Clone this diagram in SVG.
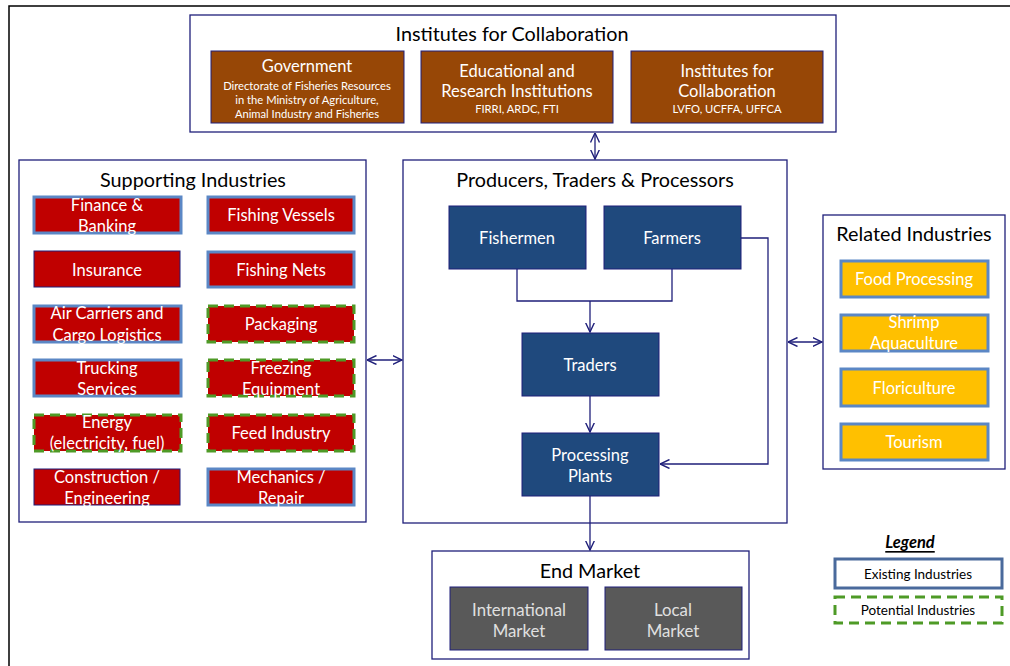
<svg xmlns="http://www.w3.org/2000/svg" width="1010" height="666" viewBox="0 0 1010 666">
<defs>
<marker id="arr" viewBox="0 0 10 10" refX="9.5" refY="5" markerWidth="10" markerHeight="10" markerUnits="userSpaceOnUse" orient="auto-start-reverse">
<path d="M0,0.5 L9.5,5 L0,9.5" fill="none" stroke="#1f1f7a" stroke-width="1.4"/>
</marker>
<style>
text{font-family:Lato,"Open Sans","Liberation Sans",sans-serif;text-anchor:middle;dominant-baseline:central}
.frame{fill:none;stroke:#000;stroke-width:1.5}
.cont{fill:#fff;stroke:#1f1f7a;stroke-width:1.3}
.title{font-size:19.8px;fill:#000}
.brown{fill:#974706;stroke:#1f1f7a;stroke-width:1}
.red{fill:#c00000}
.ex{stroke:#5b87c5;stroke-width:3}
.thin{stroke:#1f1f7a;stroke-width:1}
.pot{stroke:#4e9a26;stroke-width:3;stroke-dasharray:10 6}
.blue{fill:#1f497d;stroke:#1f1f7a;stroke-width:1}
.gold{fill:#ffc000;stroke:#5b87c5;stroke-width:3}
.gray{fill:#595959;stroke:#1f1f7a;stroke-width:1}
.wt{fill:#fff;font-size:16.5px}
.wt16{fill:#fff;font-size:16.5px}
.sm{fill:#fff;font-size:11.2px}
.lg{fill:#e0e0e0;font-size:16.8px}
.conn{fill:none;stroke:#1f1f7a;stroke-width:1.3}
</style>
</defs>
<rect width="1010" height="666" fill="#fff"/>
<path class="frame" d="M9,666 L9,6 L1010,6"/>

<g id="institutes">
<rect class="cont" x="190" y="15" width="646" height="117"/>
<text class="title" x="512" y="33">Institutes for Collaboration</text>
</g>
<g id="government">
<rect class="brown" x="211" y="51" width="193" height="72"/>
<text class="wt16" x="307" y="66">Government</text>
<text class="sm" x="307" y="85">Directorate of Fisheries Resources</text>
<text class="sm" x="307" y="99">in the Ministry of Agriculture,</text>
<text class="sm" x="307" y="113">Animal Industry and Fisheries</text>
</g>
<g id="educational">
<rect class="brown" x="421" y="51" width="192" height="72"/>
<text class="wt16" x="517" y="71">Educational and</text>
<text class="wt16" x="517" y="91">Research Institutions</text>
<text class="sm" x="517" y="108">FIRRI, ARDC, FTI</text>
</g>
<g id="institutes-collab">
<rect class="brown" x="631" y="51" width="192" height="72"/>
<text class="wt16" x="727" y="71">Institutes for</text>
<text class="wt16" x="727" y="91">Collaboration</text>
<text class="sm" x="727" y="108">LVFO, UCFFA, UFFCA</text>
</g>

<g id="supporting">
<rect class="cont" x="19" y="160" width="347" height="362"/>
<text class="title" x="193" y="179">Supporting Industries</text>
</g>
<g id="finance"><rect class="red ex" x="34" y="197" width="147" height="36"/><text class="wt" x="107" y="205">Finance &amp;</text><text class="wt" x="107" y="226">Banking</text></g>
<g id="vessels"><rect class="red ex" x="208" y="197" width="146" height="36"/><text class="wt" x="281" y="215">Fishing Vessels</text></g>
<g id="insurance"><rect class="red thin" x="34" y="251" width="146" height="36"/><text class="wt" x="107" y="270">Insurance</text></g>
<g id="nets"><rect class="red ex" x="208" y="252" width="146" height="35"/><text class="wt" x="281" y="270">Fishing Nets</text></g>
<g id="air"><rect class="red ex" x="34" y="306" width="147" height="36"/><text class="wt" x="107" y="313">Air Carriers and</text><text class="wt" x="107" y="335">Cargo Logistics</text></g>
<g id="packaging"><rect class="red pot" x="208" y="306" width="146" height="36"/><text class="wt" x="281" y="324">Packaging</text></g>
<g id="trucking"><rect class="red ex" x="34" y="360" width="147" height="36"/><text class="wt" x="107" y="368">Trucking</text><text class="wt" x="107" y="389">Services</text></g>
<g id="freezing"><rect class="red pot" x="208" y="360" width="146" height="36"/><text class="wt" x="281" y="368">Freezing</text><text class="wt" x="281" y="389">Equipment</text></g>
<g id="energy"><rect class="red pot" x="34" y="415" width="147" height="36"/><text class="wt" x="107" y="422">Energy</text><text class="wt" x="107" y="443">(electricity, fuel)</text></g>
<g id="feed"><rect class="red pot" x="208" y="415" width="146" height="36"/><text class="wt" x="281" y="433">Feed Industry</text></g>
<g id="construction"><rect class="red thin" x="34" y="469" width="146" height="36"/><text class="wt" x="107" y="477">Construction /</text><text class="wt" x="107" y="498">Engineering</text></g>
<g id="mechanics"><rect class="red ex" x="208" y="469" width="146" height="36"/><text class="wt" x="281" y="477">Mechanics /</text><text class="wt" x="281" y="498">Repair</text></g>

<g id="producers">
<rect class="cont" x="403" y="160" width="384" height="363"/>
<text class="title" x="595" y="179">Producers, Traders &amp; Processors</text>
</g>
<g id="fishermen"><rect class="blue" x="449" y="206" width="137" height="63"/><text class="wt" x="517" y="238">Fishermen</text></g>
<g id="farmers"><rect class="blue" x="604" y="206" width="137" height="63"/><text class="wt" x="672" y="238">Farmers</text></g>
<g id="traders"><rect class="blue" x="522" y="333" width="137" height="63"/><text class="wt" x="590" y="365">Traders</text></g>
<g id="processing"><rect class="blue" x="522" y="433" width="137" height="63"/><text class="wt" x="590" y="455">Processing</text><text class="wt" x="590" y="476">Plants</text></g>

<g id="related">
<rect class="cont" x="823" y="215" width="182" height="254"/>
<text class="title" x="914" y="233">Related Industries</text>
</g>
<g id="food"><rect class="gold" x="841" y="261" width="147" height="36"/><text class="wt" x="914" y="279">Food Processing</text></g>
<g id="shrimp"><rect class="gold" x="841" y="315" width="147" height="36"/><text class="wt" x="914" y="322">Shrimp</text><text class="wt" x="914" y="343">Aquaculture</text></g>
<g id="floriculture"><rect class="gold" x="841" y="369" width="147" height="37"/><text class="wt" x="914" y="388">Floriculture</text></g>
<g id="tourism"><rect class="gold" x="841" y="424" width="147" height="36"/><text class="wt" x="914" y="442">Tourism</text></g>

<g id="endmarket">
<rect class="cont" x="432" y="551" width="317" height="108"/>
<text class="title" x="590" y="570">End Market</text>
</g>
<g id="international"><rect class="gray" x="450" y="587" width="138" height="63"/><text class="lg" x="519" y="609">International</text><text class="lg" x="519" y="630">Market</text></g>
<g id="local"><rect class="gray" x="605" y="587" width="137" height="63"/><text class="lg" x="673" y="609">Local</text><text class="lg" x="673" y="630">Market</text></g>

<g id="legend">
<text x="910" y="542" style="font-size:16.5px;font-weight:bold;font-style:italic;text-decoration:underline">Legend</text>
<rect x="835" y="559" width="167" height="29" fill="#fff" stroke="#4a6a9c" stroke-width="3"/>
<text x="918" y="574" style="font-size:13.5px;fill:#000">Existing Industries</text>
<rect x="835" y="597" width="167" height="26" fill="#fff" stroke="#4e9a26" stroke-width="3" stroke-dasharray="10 6"/>
<text x="918" y="610" style="font-size:13.5px;fill:#000">Potential Industries</text>
</g>

<g id="connectors">
<path class="conn" d="M595,133 L595,159" marker-start="url(#arr)" marker-end="url(#arr)"/>
<path class="conn" d="M367,360 L402,360" marker-start="url(#arr)" marker-end="url(#arr)"/>
<path class="conn" d="M788,342 L822,342" marker-start="url(#arr)" marker-end="url(#arr)"/>
<path class="conn" d="M517,269 L517,301 L672,301 L672,269"/>
<path class="conn" d="M590,301 L590,332" marker-end="url(#arr)"/>
<path class="conn" d="M590,396 L590,432" marker-end="url(#arr)"/>
<path class="conn" d="M741,238 L768,238 L768,464 L660,464" marker-end="url(#arr)"/>
<path class="conn" d="M590,496 L590,550" marker-end="url(#arr)"/>
</g>
</svg>
